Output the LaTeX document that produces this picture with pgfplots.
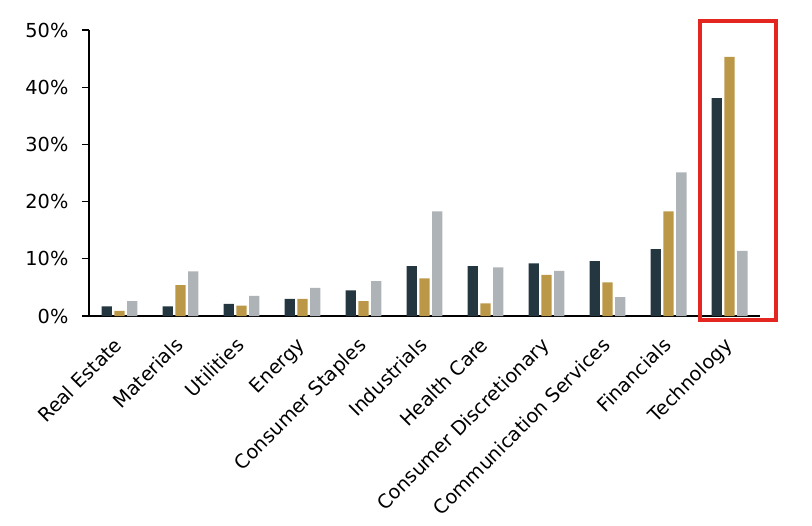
\documentclass[border=0pt]{standalone}
\usepackage{fontspec}
\setmainfont{DejaVu Sans}
\usepackage{pgfplots}
\pgfplotsset{compat=1.18}
\definecolor{cdark}{HTML}{243640}
\definecolor{cgold}{HTML}{BB9848}
\definecolor{cgrey}{HTML}{ADB3B6}
\definecolor{cred}{HTML}{E3261F}
\begin{document}
\fontsize{19.3bp}{23bp}\selectfont
\begin{tikzpicture}
\begin{axis}[
  scale only axis,
  width=671bp, height=286bp,
  xmin=-0.5, xmax=10.5,
  ymin=0, ymax=50,
  axis lines*=left,
  axis line style={-, line width=1.3bp, black},
  xtick={0,1,2,3,4,5,6,7,8,9,10},
  xticklabels={Real Estate,Materials,Utilities,Energy,Consumer Staples,Industrials,Health Care,Consumer Discretionary,Communication Services,Financials,Technology},
  x tick label style={rotate=45, anchor=north east, inner sep=2bp, xshift=-12bp, yshift=-2.5bp, font=\fontsize{19.3bp}{23bp}\selectfont},
  major x tick style={draw=none},
  ytick={0,10,20,30,40,50},
  yticklabel={\pgfmathprintnumber{\tick}\%},
  y tick label style={xshift=-7bp, font=\fontsize{19.3bp}{23bp}\selectfont},
  /pgf/number format/assume math mode=true,
  tick align=outside,
  major tick length=7bp,
  major y tick style={line width=1.3bp, black},
  ybar, bar width=0.17,
  clip=false,
]
\addplot[fill=cdark, draw=none, bar shift=-0.21] coordinates {
(0,1.7) (1,1.7) (2,2.1) (3,3.0) (4,4.5) (5,8.7) (6,8.7) (7,9.2) (8,9.6) (9,11.7) (10,38.1)};
\addplot[fill=cgold, draw=none, bar shift=0] coordinates {
(0,0.9) (1,5.4) (2,1.8) (3,3.0) (4,2.6) (5,6.6) (6,2.2) (7,7.2) (8,5.9) (9,18.3) (10,45.3)};
\addplot[fill=cgrey, draw=none, bar shift=0.21] coordinates {
(0,2.6) (1,7.8) (2,3.5) (3,4.9) (4,6.1) (5,18.3) (6,8.5) (7,7.9) (8,3.3) (9,25.1) (10,11.4)};
\draw[cred, line width=3.5bp] (axis cs:9.513,-0.7) rectangle (axis cs:10.76,51.57);
\end{axis}
\pgfresetboundingbox
\path[use as bounding box] (-89bp,-210bp) rectangle (723bp,316bp);
\end{tikzpicture}
\end{document}
